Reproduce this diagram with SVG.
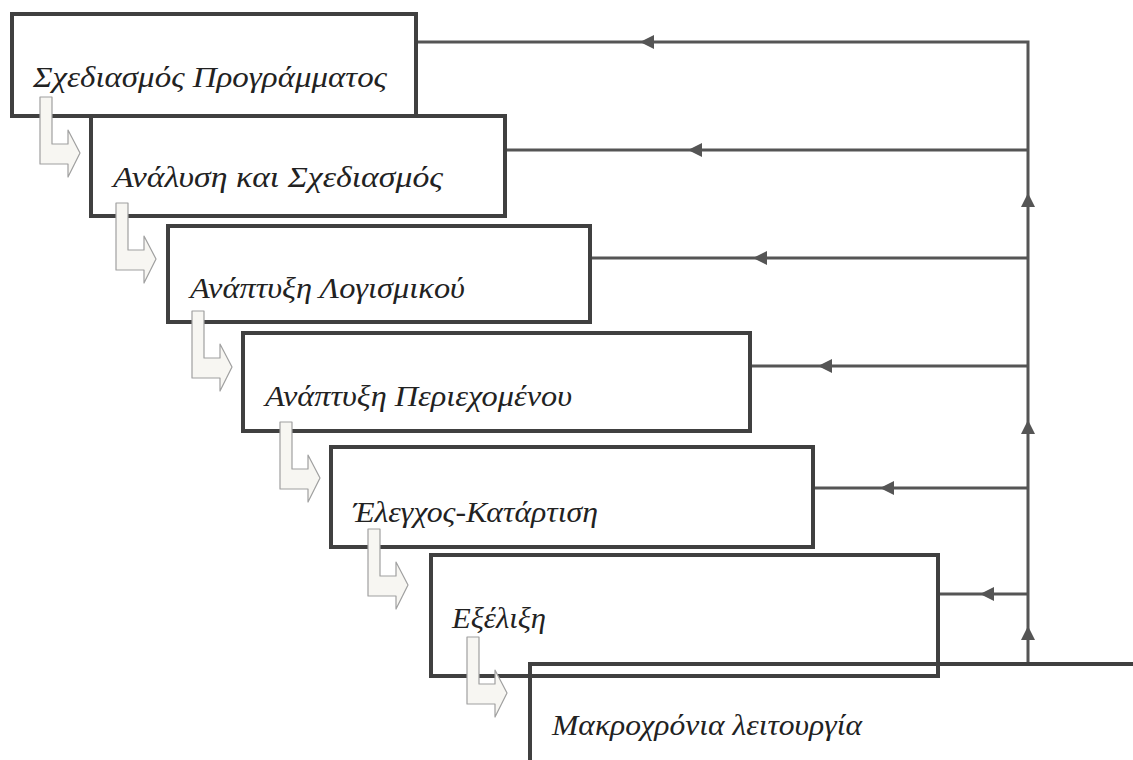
<svg xmlns="http://www.w3.org/2000/svg" width="1133" height="760" viewBox="0 0 1133 760">
<style>
.box{fill:none;stroke:#404040;stroke-width:4}
.ln{fill:none;stroke:#555;stroke-width:3}
.ah{fill:#555;stroke:none}
.lbl{font-family:"Liberation Serif","Times New Roman",serif;font-style:italic;font-size:30px;fill:#222}
.step{fill:#f7f6f2;stroke:#a0a0a0;stroke-width:1.2;stroke-linejoin:round}
</style>
<defs>
<path id="bent" d="M0,0 L12,0 L12,47 L28,47 L28,33 L40,56 L28,80 L28,67 L0,67 Z"/>
</defs>
<rect width="1133" height="760" fill="#fff"/>

<g id="connectors">
<path class="ln" d="M416,42 H1028 V664"/>
<path class="ln" d="M505,150 H1028"/>
<path class="ln" d="M590,258 H1028"/>
<path class="ln" d="M750,366 H1028"/>
<path class="ln" d="M813,488 H1028"/>
<path class="ln" d="M938,594 H1028"/>
<polygon class="ah" points="640,42 654,35 654,49"/>
<polygon class="ah" points="688,150 702,143 702,157"/>
<polygon class="ah" points="753,258 767,251 767,265"/>
<polygon class="ah" points="818,366 832,359 832,373"/>
<polygon class="ah" points="880,488 894,481 894,495"/>
<polygon class="ah" points="980,594 994,587 994,601"/>
<polygon class="ah" points="1028,193 1021,207 1035,207"/>
<polygon class="ah" points="1028,420 1021,434 1035,434"/>
<polygon class="ah" points="1028,626 1021,640 1035,640"/>
</g>

<g id="node1">
<rect class="box" x="12" y="14" width="404" height="102"/>
<text class="lbl" x="33" y="87" textLength="354" lengthAdjust="spacingAndGlyphs">Σχεδιασμός Προγράμματος</text>
</g>
<g id="node2">
<rect class="box" x="91" y="116" width="414" height="100"/>
<text class="lbl" x="113" y="187" textLength="330" lengthAdjust="spacingAndGlyphs">Ανάλυση και Σχεδιασμός</text>
</g>
<g id="node3">
<rect class="box" x="168" y="226" width="422" height="96"/>
<text class="lbl" x="190" y="298" textLength="275" lengthAdjust="spacingAndGlyphs">Ανάπτυξη Λογισμικού</text>
</g>
<g id="node4">
<rect class="box" x="243" y="333" width="507" height="98"/>
<text class="lbl" x="265" y="406" textLength="307" lengthAdjust="spacingAndGlyphs">Ανάπτυξη Περιεχομένου</text>
</g>
<g id="node5">
<rect class="box" x="331" y="447" width="482" height="100"/>
<text class="lbl" x="353" y="522" textLength="245" lengthAdjust="spacingAndGlyphs">Έλεγχος-Κατάρτιση</text>
</g>
<g id="node6">
<rect class="box" x="431" y="555" width="507" height="121"/>
<text class="lbl" x="452" y="628" textLength="94" lengthAdjust="spacingAndGlyphs">Εξέλιξη</text>
</g>
<g id="node7">
<path class="box" d="M530,762 V664 H1135"/>
<text class="lbl" x="552" y="735" textLength="310" lengthAdjust="spacingAndGlyphs">Μακροχρόνια λειτουργία</text>
</g>

<g id="steps">
<use href="#bent" class="step" x="40" y="97"/>
<use href="#bent" class="step" x="116" y="203"/>
<use href="#bent" class="step" x="192" y="311"/>
<use href="#bent" class="step" x="280" y="422"/>
<use href="#bent" class="step" x="368" y="529"/>
<use href="#bent" class="step" x="467" y="637"/>
</g>
</svg>
